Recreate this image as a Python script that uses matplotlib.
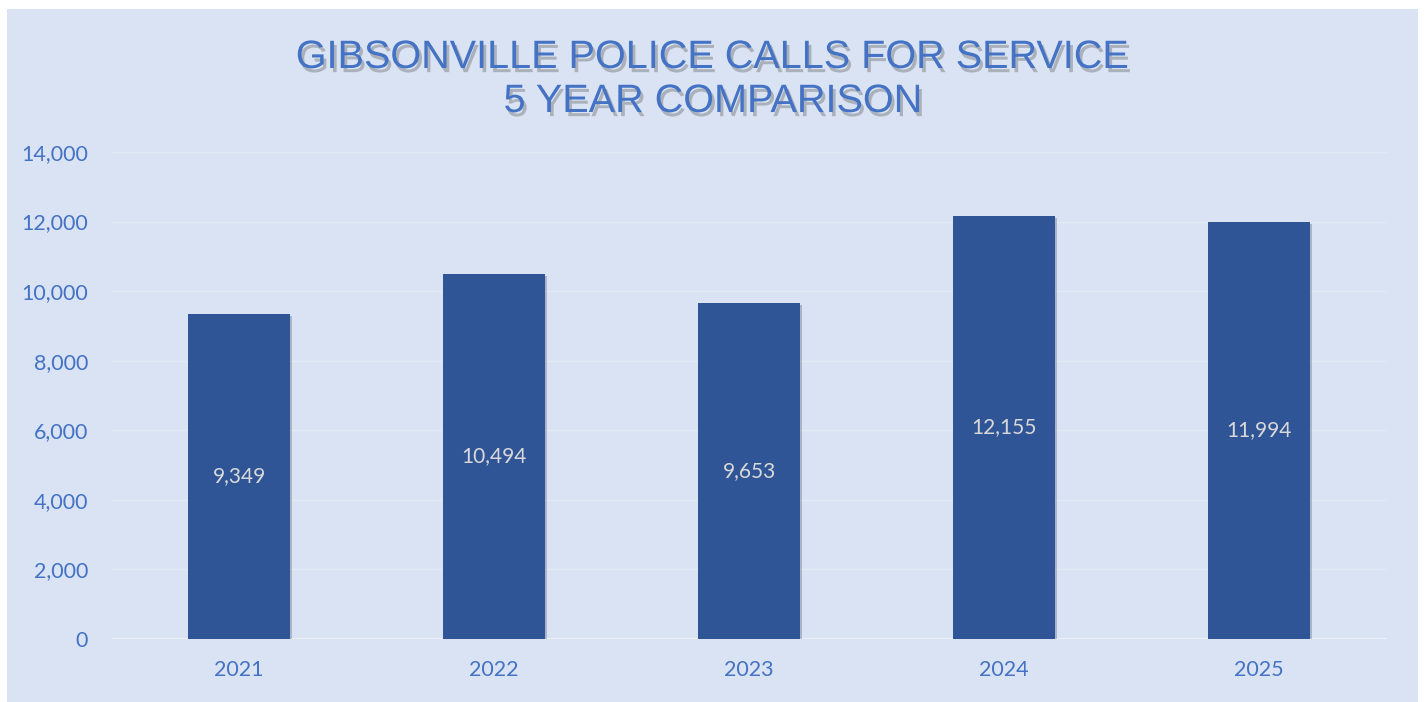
import matplotlib
matplotlib.use("Agg")
from matplotlib import pyplot as plt
from matplotlib import patheffects as pe
from matplotlib.patches import Rectangle
from matplotlib.ticker import FuncFormatter

years = ["2021", "2022", "2023", "2024", "2025"]
calls = [9349, 10494, 9653, 12155, 11994]
yticks = [0, 2000, 4000, 6000, 8000, 10000, 12000, 14000]

bg = "#DAE3F3"
bar_color = "#2F5597"
text_blue = "#4472C4"
W, H = 1426, 702

fig = plt.figure(figsize=(W / 100, H / 100), dpi=100)
fig.patch.set_facecolor("white")
# light blue chart area with a thin white margin
fig.patches.append(Rectangle((7 / W, 0), 1411 / W, 693 / H, transform=fig.transFigure,
                             facecolor=bg, edgecolor="none", zorder=-5))

ax = fig.add_axes([111.5 / W, 1 - 639 / H, 1275 / W, 487 / H])
ax.set_zorder(2)
ax.set_facecolor("none")
for s in ax.spines.values():
    s.set_visible(False)

x = range(len(years))
shadow = [pe.SimplePatchShadow(offset=(1.5, -1.5), shadow_rgbFace="#1f2f50", alpha=0.25), pe.Normal()]
bars = ax.bar(x, calls, width=0.4, color=bar_color, zorder=3)
for b in bars:
    b.set_path_effects(shadow)

for i, v in enumerate(calls):
    ax.text(i, v / 2, f"{v:,}", ha="center", va="center", color="#D9D9D9",
            fontsize=15, family="Lato", zorder=4)

ax.set_xlim(-0.5, len(years) - 0.5)
ax.set_ylim(0, 14000)
ax.set_yticks(yticks)
ax.yaxis.set_major_formatter(FuncFormatter(lambda v, p: f"{int(v):,}"))
ax.set_xticks(list(x))
ax.set_xticklabels(years)
ax.tick_params(axis="both", length=0, colors=text_blue, labelsize=15.5)
ax.tick_params(axis="y", pad=17)
ax.tick_params(axis="x", pad=15)
for lab in ax.get_xticklabels() + ax.get_yticklabels():
    lab.set_family("Lato")
ax.grid(True, axis="y", color="#E2E9F6", lw=1, zorder=0)
ax.axhline(0, color="#EEF1F7", lw=2, zorder=2)

title = "GIBSONVILLE POLICE CALLS FOR SERVICE\n5 YEAR COMPARISON"
fig.text(0.5, 1 - 79 / H, title, ha="center", va="center", color=text_blue,
         fontsize=28.5, family="Liberation Sans", linespacing=1.2, zorder=5,
         path_effects=[pe.withSimplePatchShadow(offset=(2, -3), shadow_rgbFace="#555555", alpha=0.35)])

fig.savefig("out.png", dpi=100, facecolor=fig.get_facecolor())
